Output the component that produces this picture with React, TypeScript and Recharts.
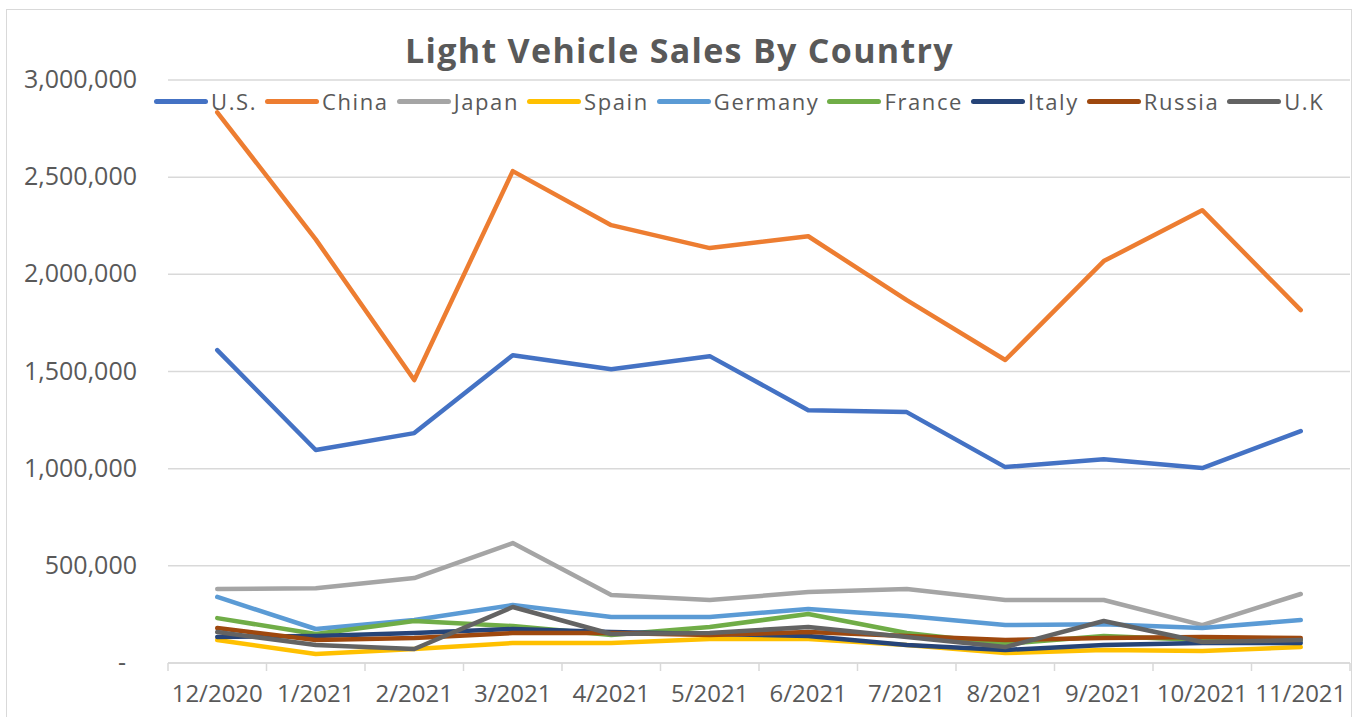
import { LineChart, Line, XAxis, YAxis, CartesianGrid } from 'recharts'

// --- Data ---
const MONTHS = ['12/2020', '1/2021', '2/2021', '3/2021', '4/2021', '5/2021', '6/2021', '7/2021', '8/2021', '9/2021', '10/2021', '11/2021']

const US = [1610000, 1096000, 1183000, 1584000, 1512000, 1579000, 1301000, 1291000, 1008000, 1049000, 1003000, 1193000]
const CHINA = [2834000, 2180000, 1456000, 2531000, 2253000, 2135000, 2196000, 1867000, 1559000, 2068000, 2330000, 1816000]
const JAPAN = [381000, 385000, 437000, 617000, 350000, 324000, 365000, 381000, 324000, 324000, 195000, 355000]
const SPAIN = [118000, 46000, 72000, 103000, 103000, 123000, 123000, 93000, 51000, 67000, 62000, 82000]
const GERMANY = [340000, 175000, 221000, 298000, 237000, 237000, 278000, 242000, 195000, 200000, 180000, 221000]
const FRANCE = [231000, 149000, 216000, 190000, 144000, 185000, 252000, 154000, 98000, 139000, 118000, 118000]
const ITALY = [134000, 139000, 154000, 175000, 159000, 149000, 139000, 93000, 67000, 93000, 103000, 103000]
const RUSSIA = [180000, 118000, 129000, 154000, 154000, 144000, 159000, 139000, 118000, 129000, 134000, 129000]
const UK = [159000, 93000, 72000, 288000, 149000, 154000, 185000, 134000, 82000, 216000, 108000, 118000]

const Y_TICKS = [0, 500000, 1000000, 1500000, 2000000, 2500000, 3000000]

const SERIES = [
  { key: 'us', name: 'U.S.', values: US, color: '#4472C4' },
  { key: 'china', name: 'China', values: CHINA, color: '#ED7D31' },
  { key: 'japan', name: 'Japan', values: JAPAN, color: '#A5A5A5' },
  { key: 'spain', name: 'Spain', values: SPAIN, color: '#FFC000' },
  { key: 'germany', name: 'Germany', values: GERMANY, color: '#5B9BD5' },
  { key: 'france', name: 'France', values: FRANCE, color: '#70AD47' },
  { key: 'italy', name: 'Italy', values: ITALY, color: '#264478' },
  { key: 'russia', name: 'Russia', values: RUSSIA, color: '#9E480E' },
  { key: 'uk', name: 'U.K', values: UK, color: '#636363' },
]

const data = MONTHS.map((month, i) => {
  const row: Record<string, string | number> = { month }
  SERIES.forEach((s) => { row[s.key] = s.values[i] })
  return row
})

// --- Layout ---
const W = 1359
const H = 717
const PLOT_LEFT = 168
const PLOT_TOP = 80
const PLOT_BOTTOM = 663
const PLOT_RIGHT = 1350
const BAND = (PLOT_RIGHT - PLOT_LEFT) / MONTHS.length
const FONT = '"Open Sans", sans-serif'
const TEXT = '#595959'
const GRID = '#d9d9d9'

const fmt = (v: number) => v.toLocaleString('en-US')

function XTick({ x, payload, index }: any) {
  const last = index === MONTHS.length - 1
  return (
    <g>
      <line x1={x - BAND / 2} x2={x - BAND / 2} y1={PLOT_BOTTOM} y2={PLOT_BOTTOM + 8} stroke={GRID} strokeWidth={1.5} />
      {last && <line x1={x + BAND / 2} x2={x + BAND / 2} y1={PLOT_BOTTOM} y2={PLOT_BOTTOM + 8} stroke={GRID} strokeWidth={1.5} />}
      <text x={x} y={PLOT_BOTTOM + 39} textAnchor="middle" fill={TEXT} fontSize={24} fontFamily={FONT}>
        {payload.value}
      </text>
    </g>
  )
}

function YTick({ y, payload }: any) {
  const zero = payload.value === 0
  return (
    <text x={zero ? 126 : 137} y={y + 8} textAnchor="end" fill={TEXT} fontSize={25} fontFamily={FONT}>
      {zero ? '-' : fmt(payload.value)}
    </text>
  )
}

function ChartLegend() {
  return (
    <div style={{ position: 'absolute', left: 154, top: 86, display: 'flex', alignItems: 'center', fontFamily: FONT, fontSize: 22, color: TEXT, whiteSpace: 'nowrap' }}>
      {SERIES.map((s) => (
        <div key={s.key} style={{ display: 'flex', alignItems: 'center', marginRight: 8 }}>
          <div style={{ width: 54, height: 5, borderRadius: 3, background: s.color, marginRight: 3 }} />
          <span style={{ letterSpacing: 1.6 }}>{s.name}</span>
        </div>
      ))}
    </div>
  )
}

export default function App() {
  return (
    <div style={{ position: 'absolute', left: 0, top: 0, width: W, height: H, background: '#fff', overflow: 'hidden' }}>
      <div style={{ position: 'absolute', left: 6, top: 9, width: 1346, height: 730, border: `1.5px solid ${GRID}`, boxSizing: 'border-box' }} />
      <div style={{ position: 'absolute', left: 0, width: 1359, top: 27, textAlign: 'center', fontFamily: FONT, fontWeight: 700, fontSize: 34, letterSpacing: 1.3, color: TEXT, lineHeight: '46px' }}>
        Light Vehicle Sales By Country
      </div>
      <div style={{ position: 'absolute', left: 0, top: 0 }}>
        <LineChart width={W} height={H} data={data} margin={{ top: PLOT_TOP, right: W - PLOT_RIGHT, left: 0, bottom: 0 }}>
          <CartesianGrid vertical={false} stroke={GRID} strokeWidth={1.5} />
          <XAxis
            dataKey="month"
            height={H - PLOT_BOTTOM}
            padding={{ left: BAND / 2, right: BAND / 2 }}
            axisLine={{ stroke: GRID, strokeWidth: 1.5 }}
            tickLine={false}
            tick={<XTick />}
            interval={0}
          />
          <YAxis
            width={PLOT_LEFT}
            domain={[0, 3000000]}
            ticks={Y_TICKS}
            axisLine={false}
            tickLine={false}
            tick={<YTick />}
          />
          {SERIES.map((s) => (
            <Line
              key={s.key}
              dataKey={s.key}
              name={s.name}
              stroke={s.color}
              strokeWidth={4.5}
              strokeLinecap="round"
              strokeLinejoin="round"
              dot={false}
              activeDot={false}
              isAnimationActive={false}
            />
          ))}
        </LineChart>
      </div>
      <ChartLegend />
    </div>
  )
}
